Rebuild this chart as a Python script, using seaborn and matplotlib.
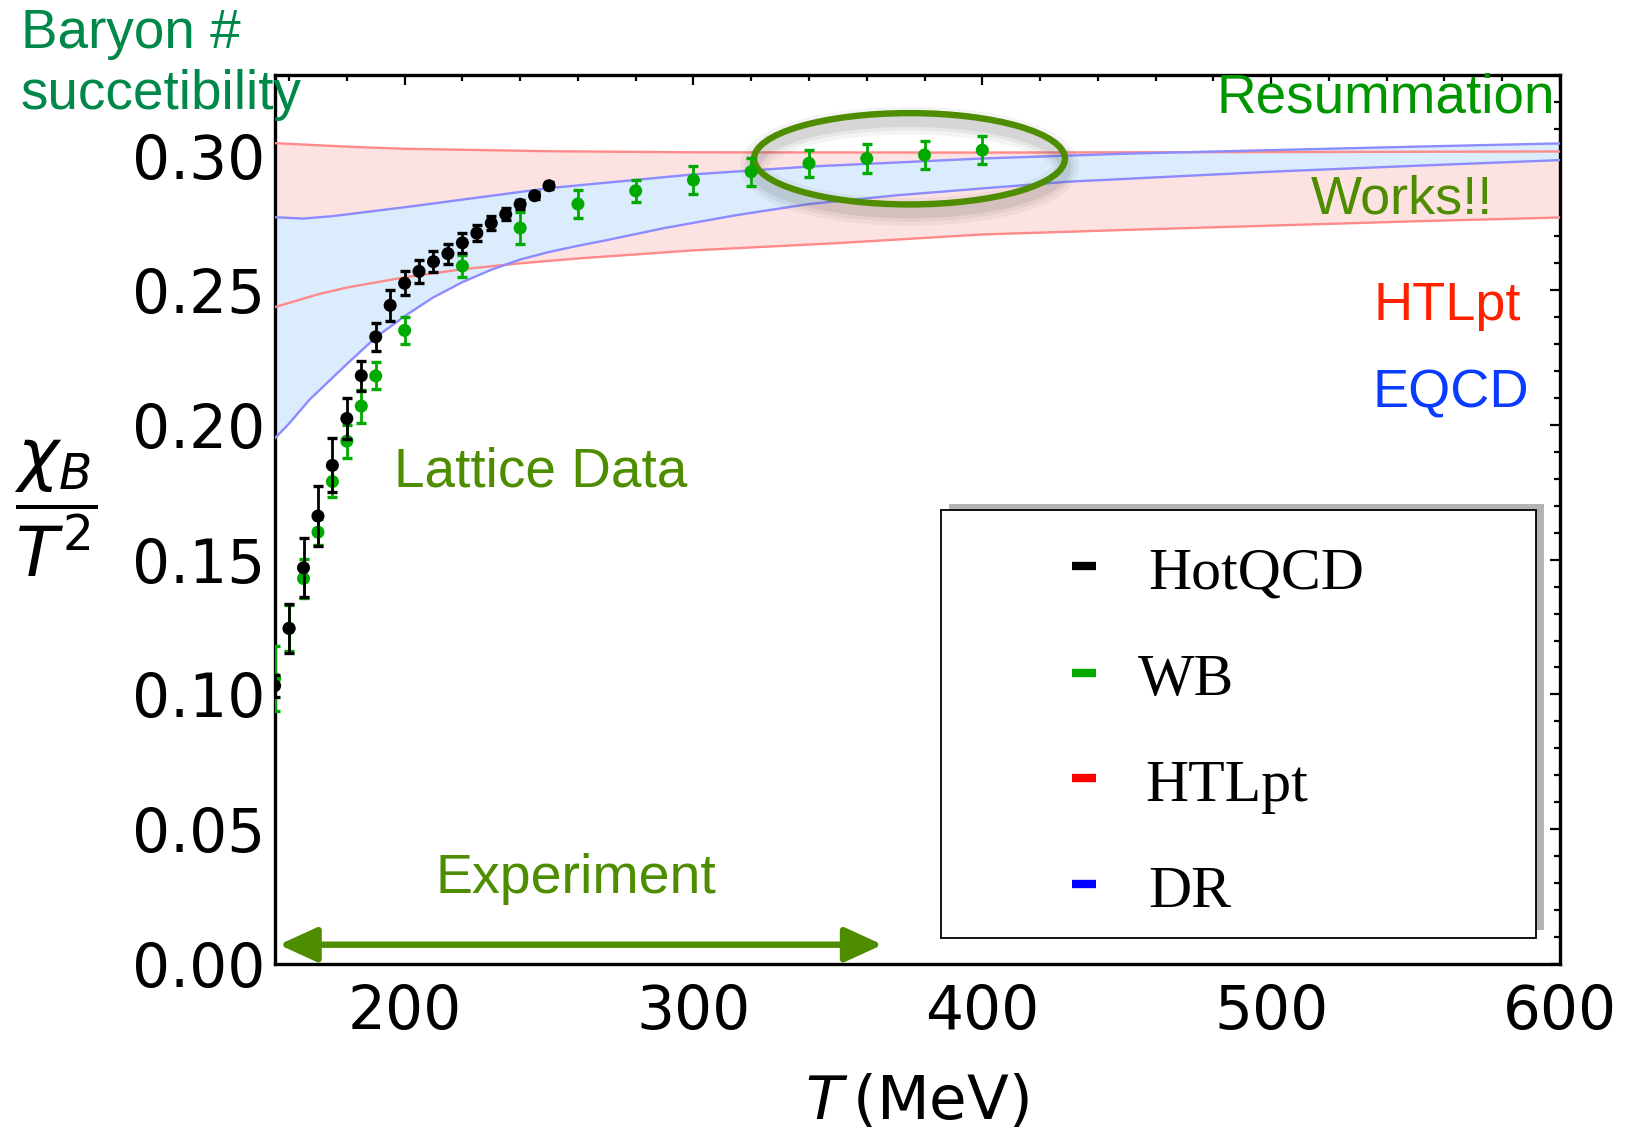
import numpy as np
import matplotlib
matplotlib.use("Agg")
import matplotlib.pyplot as plt
from matplotlib.patches import Ellipse, Rectangle
from matplotlib.lines import Line2D
import seaborn as sns

# ---------------- data ----------------
T_hotqcd = [155, 160, 165, 170, 175, 180, 185, 190, 195, 200, 205, 210, 215, 220, 225, 230, 235, 240, 245, 250]
chi_hotqcd = [0.1032, 0.1245, 0.1470, 0.1662, 0.1850, 0.2024, 0.2183, 0.2327, 0.2444, 0.2526, 0.2570, 0.2606,
              0.2636, 0.2676, 0.2712, 0.2749, 0.2782, 0.2819, 0.2851, 0.2888]
err_hotqcd = [0.0040, 0.0090, 0.0110, 0.0113, 0.0100, 0.0076, 0.0056, 0.0053, 0.0057, 0.0044, 0.0042, 0.0038,
              0.0037, 0.0036, 0.0030, 0.0026, 0.0023, 0.0016, 0.0013, 0.0013]

T_wb = [155, 160, 165, 170, 175, 180, 185, 190, 200, 220, 240, 260, 280, 300, 320, 340, 360, 380, 400]
chi_wb = [0.1059, 0.1245, 0.1430, 0.1602, 0.1790, 0.1940, 0.2070, 0.2182, 0.2351, 0.2590, 0.2731, 0.2820,
          0.2869, 0.2909, 0.2940, 0.2971, 0.2989, 0.3002, 0.3020]
err_wb = [0.0120, 0.0085, 0.0072, 0.0049, 0.0058, 0.0061, 0.0061, 0.0050, 0.0050, 0.0041, 0.0061, 0.0051,
          0.0042, 0.0052, 0.0052, 0.0051, 0.0052, 0.0052, 0.0052]

T_htl_up = [155, 180, 200, 250, 300, 400, 500, 600]
htl_up = [0.3046, 0.3033, 0.3025, 0.3016, 0.3012, 0.3011, 0.3013, 0.3015]
T_htl_lo = [155, 170, 180, 200, 220, 240, 260, 300, 350, 400, 450, 500, 550, 600]
htl_lo = [0.2437, 0.2485, 0.2510, 0.2548, 0.2578, 0.2600, 0.2618, 0.2648, 0.2675, 0.2707, 0.2724, 0.2740,
          0.2756, 0.2770]

T_dr_up = [155, 165, 175, 200, 250, 300, 340, 400, 450, 500, 550, 600]
dr_up = [0.2771, 0.2766, 0.2775, 0.2808, 0.2879, 0.2930, 0.2959, 0.2989, 0.3007, 0.3020, 0.3033, 0.3045]
T_dr_lo = [155, 160, 167, 180, 190, 200, 210, 220, 230, 240, 250, 260, 270, 290, 315, 340, 370, 400, 430,
           500, 550, 600]
dr_lo = [0.1950, 0.2005, 0.2093, 0.2226, 0.2325, 0.2404, 0.2474, 0.2530, 0.2576, 0.2614, 0.2642, 0.2665,
         0.2686, 0.2731, 0.2779, 0.2820, 0.2852, 0.2878, 0.2903, 0.2940, 0.2962, 0.2983]

x_ticks = [200, 300, 400, 500, 600]
y_ticks = [0.00, 0.05, 0.10, 0.15, 0.20, 0.25, 0.30]
legend_labels = ["HotQCD", "WB", "HTLpt", "DR"]
legend_colors = ["#000000", "#00aa00", "#ff0000", "#0000ff"]

# ---------------- styling ----------------
sns.set_style("white")
plt.rcParams["font.family"] = ["DejaVu Sans"]
plt.rcParams["text.color"] = "black"

OLIVE = "#4e8c00"
fig = plt.figure(figsize=(16.25, 11.37), dpi=100)
ax = fig.add_axes([0.169, 0.1523, 0.791, 0.782])

# bands
ax.fill_between(T_htl_lo, htl_lo, np.interp(T_htl_lo, T_htl_up, htl_up), color="#fde2e2", lw=0, zorder=1)
ax.fill_between(T_dr_lo, dr_lo, np.interp(T_dr_lo, T_dr_up, dr_up), color="#dbecfc", lw=0, zorder=2)
for xs, ys, c in [(T_htl_up, htl_up, "#ff8a8a"), (T_htl_lo, htl_lo, "#ff8a8a"),
                  (T_dr_up, dr_up, "#8c8cff"), (T_dr_lo, dr_lo, "#8c8cff")]:
    sns.lineplot(x=xs, y=ys, ax=ax, color=c, lw=1.7, sort=False, estimator=None, zorder=3)

# ellipse with soft shadow
e_cx, e_cy, e_w, e_h = 374.8, 0.2988, 107.6, 0.0339
for lw, a in [(20, 0.06), (14, 0.08), (9, 0.10)]:
    ax.add_patch(Ellipse((e_cx, e_cy - 0.0028), e_w, e_h, fill=False, ec="0.3", lw=lw, alpha=a, zorder=4))
ax.add_patch(Ellipse((e_cx, e_cy), e_w, e_h, fill=False, ec=OLIVE, lw=4.6, zorder=5))

# data points
ax.errorbar(T_wb, chi_wb, yerr=err_wb, fmt="none", ecolor="#00aa00", elinewidth=2.0, capsize=3.8,
            capthick=2.4, zorder=6)
sns.scatterplot(x=T_wb, y=chi_wb, ax=ax, color="#00aa00", s=88, edgecolor="none", zorder=7)
ax.errorbar(T_hotqcd, chi_hotqcd, yerr=err_hotqcd, fmt="none", ecolor="black", elinewidth=2.0,
            capsize=3.8, capthick=2.4, zorder=8)
sns.scatterplot(x=T_hotqcd, y=chi_hotqcd, ax=ax, color="black", s=88, edgecolor="none", zorder=9)

# experiment arrow
arr_x0, arr_x1, arr_y = 156.5, 365.5, 0.0071
ax.annotate("", xy=(arr_x1, arr_y), xytext=(arr_x0, arr_y),
            arrowprops=dict(arrowstyle="<|-|>,head_length=0.46,head_width=0.21", mutation_scale=50,
                            lw=4.6, color=OLIVE, shrinkA=0, shrinkB=0), zorder=6)

# axes
ax.set_xlim(155, 600)
ax.set_ylim(0, 0.33)
ax.set_xticks(x_ticks)
ax.set_xticklabels([str(v) for v in x_ticks])
ax.set_yticks(y_ticks)
ax.set_yticklabels([f"{v:.2f}" for v in y_ticks])
ax.set_xticks(np.arange(160, 601, 20), minor=True)
ax.set_yticks(np.arange(0, 0.331, 0.01), minor=True)
ax.tick_params(which="both", direction="in", top=True, right=True, width=1.6, color="black",
               labelcolor="black")
ax.tick_params(which="major", length=7.5, labelsize=43)
ax.tick_params(which="minor", length=4.5)
ax.tick_params(axis="x", which="major", pad=14)
ax.tick_params(axis="y", which="major", pad=7)
for s in ax.spines.values():
    s.set_linewidth(2.4)
    s.set_color("black")
    s.set_visible(True)
ax.set_xlabel("")
ax.set_ylabel("")

# annotation texts
tf = ["Liberation Sans", "DejaVu Sans"]
ax.text(598.3, 0.3212, "Resummation", color="#009600", fontsize=39.5, ha="right", va="center", family=tf, zorder=10)
ax.text(576.7, 0.2838, "Works!!", color=OLIVE, fontsize=39, ha="right", va="center", family=tf, zorder=10)
ax.text(586.4, 0.2442, "HTLpt", color="#ff2200", fontsize=39, ha="right", va="center", family=tf, zorder=10)
ax.text(589.3, 0.2115, "EQCD", color="#0a3cff", fontsize=39, ha="right", va="center", family=tf, zorder=10)
ax.text(196.5, 0.1823, "Lattice Data", color=OLIVE, fontsize=39.5, ha="left", va="center", family=tf, zorder=10)
ax.text(210.8, 0.0315, "Experiment", color=OLIVE, fontsize=40, ha="left", va="center", family=tf, zorder=10)

fig.text(0.0127, 0.993, "Baryon #\nsuccetibility", color="#00884a", fontsize=39.5, ha="left", va="top",
         family=tf, linespacing=1.22, zorder=20)

# y label fraction, x label
fig.text(0.034, 0.553, r"$\dfrac{\chi_{B}}{T^{2}}$", fontsize=50, ha="center", va="center", color="black")
fig.text(0.5645, 0.030, r"$T\,$(MeV)", fontsize=44, ha="center", va="center", color="black")

# legend box (manual)
ax.add_patch(Rectangle((0.5247, 0.0383), 0.4628, 0.4791, transform=ax.transAxes, fc="#b3b3b3", ec="none",
                       zorder=11))
ax.add_patch(Rectangle((0.5184, 0.029), 0.4629, 0.4813, transform=ax.transAxes, fc="white", ec="black",
                       lw=1.3, zorder=12))
leg_y = [0.4475, 0.3275, 0.2086, 0.0898]
leg_tx = [0.6797, 0.6719, 0.6773, 0.6797]
for lab, col, yy, tx in zip(legend_labels, legend_colors, leg_y, leg_tx):
    ax.add_line(Line2D([0.6207, 0.6392], [yy, yy], transform=ax.transAxes, color=col, lw=6,
                       solid_capstyle="butt", zorder=13))
    ax.text(tx, yy - 0.0256, lab, transform=ax.transAxes, fontsize=43, family=["Liberation Serif"],
            ha="left", va="baseline", color="black", zorder=13)

fig.savefig("out.png", dpi=100)
